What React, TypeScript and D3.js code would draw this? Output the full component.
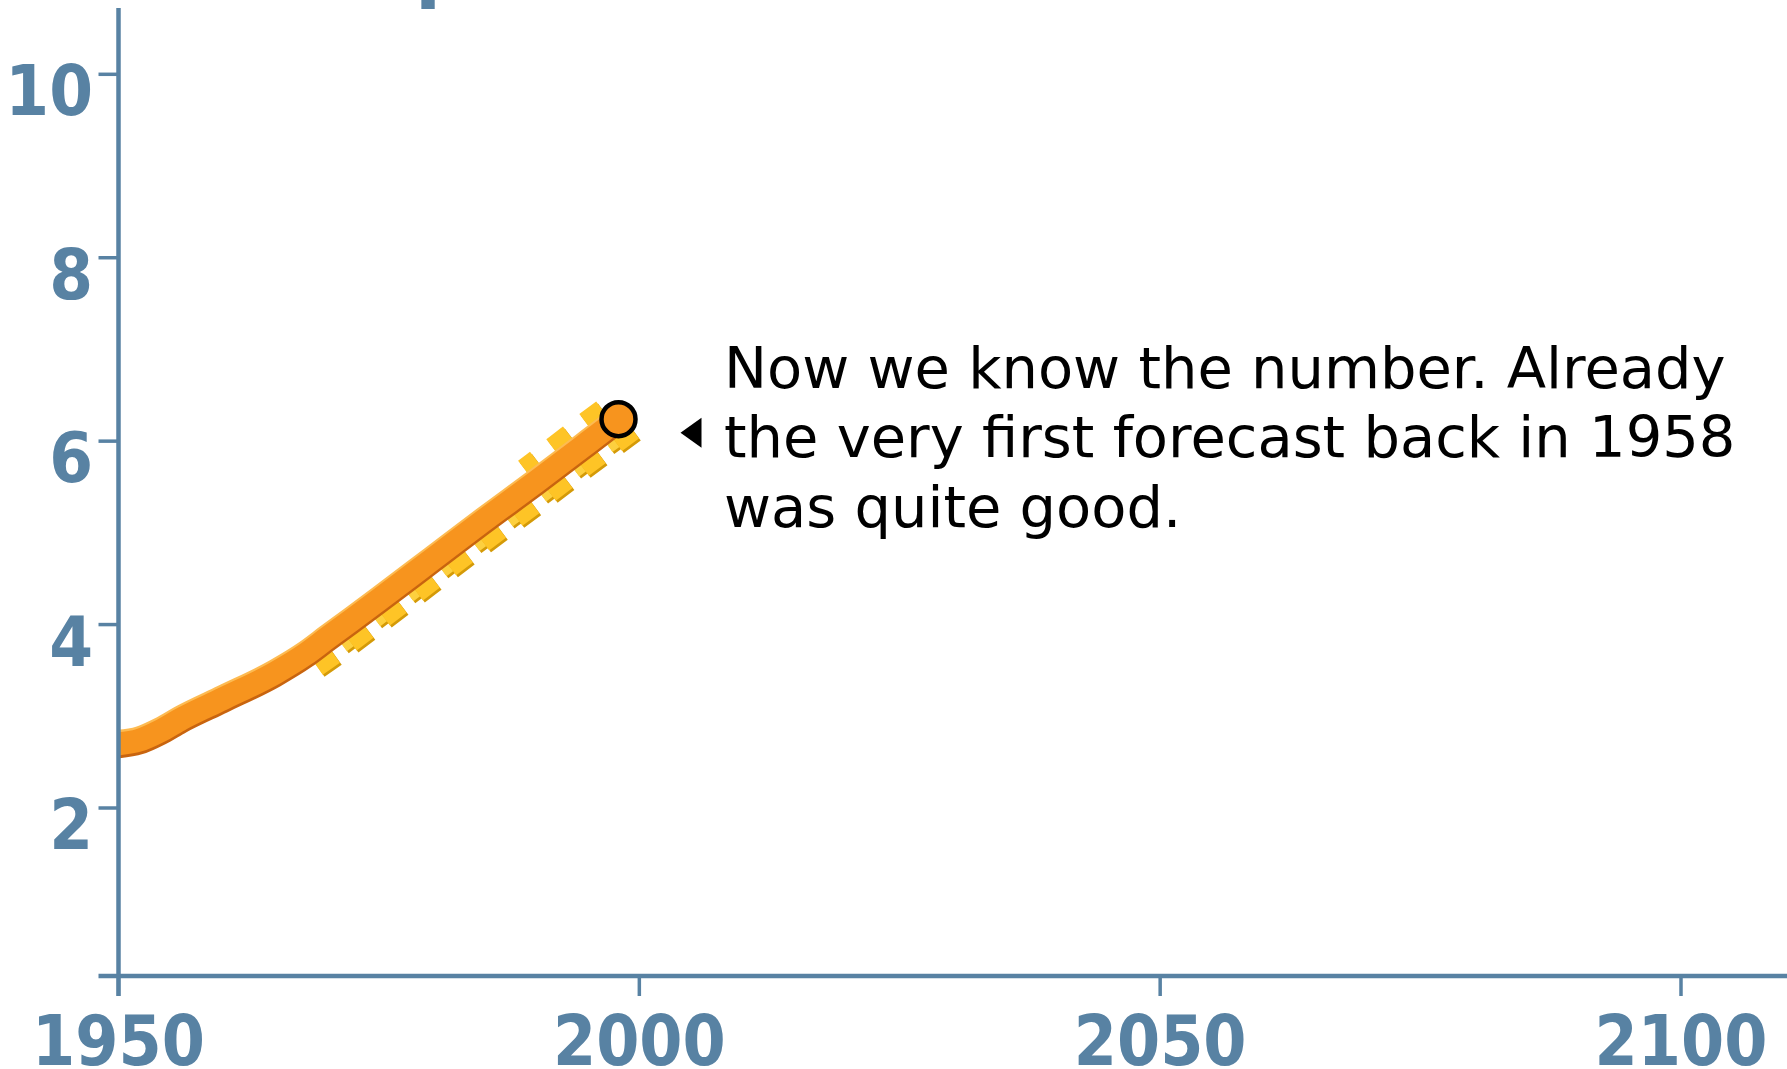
import React from "react";
import * as d3 from "d3";

// ---- data ----
const actualYears = [1950, 1952, 1954, 1956, 1960, 1965, 1968, 1970, 1975, 1980, 1985, 1990, 1995, 1998];
const actualValues = [2.70, 2.74, 2.84, 2.97, 3.19, 3.47, 3.68, 3.85, 4.27, 4.70, 5.13, 5.55, 5.98, 6.24];

const forecastAYears = [1969, 1970, 1975, 1980, 1985, 1990, 1995, 2000];
const forecastAValues = [3.55, 3.63, 4.05, 4.48, 4.91, 5.33, 5.76, 6.18];

const forecastBYears = [1969, 1970, 1975, 1980, 1985, 1990, 1995, 1999];
const forecastBValues = [3.62, 3.70, 4.12, 4.55, 4.98, 5.40, 5.83, 6.16];

const forecastCYears = [1989, 1992, 1995, 1997];
const forecastCValues = [5.69, 5.95, 6.21, 6.38];

const xTicks = [1950, 2000, 2050, 2100];
const yTicks = [2, 4, 6, 8, 10];

const noteLines = [
  "Now we know the number. Already",
  "the very first forecast back in 1958",
  "was quite good.",
];

// ---- layout ----
const W = 1787;
const H = 1069;
const AXIS_COLOR = "#5882a3";
const AXIS_Y = 976; // pixel row of the x axis
const AXIS_TOP = 8;

export default function App() {
  const x = d3.scaleLinear().domain([1950, 2100]).range([118.5, 1681]);
  const y = d3.scaleLinear().domain([2, 10]).range([808, 74.3]);

  const line = d3
    .line<[number, number]>()
    .x((d) => x(d[0]))
    .y((d) => y(d[1]))
    .curve(d3.curveMonotoneX);

  const zip = (a: number[], b: number[]) => a.map((v, i) => [v, b[i]] as [number, number]);
  const actualPath = line(zip(actualYears, actualValues)) || "";
  const fA = line(zip(forecastAYears, forecastAValues)) || "";
  const fB = line(zip(forecastBYears, forecastBValues)) || "";
  const fC = line(zip(forecastCYears, forecastCValues)) || "";

  const x0 = x(1950);
  const lastX = x(actualYears[actualYears.length - 1]);
  const lastY = y(actualValues[actualValues.length - 1]);

  const dash = "21 20.5";
  const yellowLine = (d: string, offset: number, light: boolean) => (
    <g>
      <path d={d} fill="none" stroke="#d49a08" strokeWidth={22} strokeDasharray={dash}
        strokeDashoffset={offset} transform="translate(1.8,2)" />
      <path d={d} fill="none" stroke={light ? "#fdd03f" : "#fec426"} strokeWidth={22}
        strokeDasharray={dash} strokeDashoffset={offset} />
    </g>
  );

  const fontTick = "'DejaVu Sans Condensed', 'DejaVu Sans', sans-serif";

  return (
    <svg width={W} height={H} viewBox={`0 0 ${W} ${H}`}
      style={{ position: "absolute", left: 0, top: 0, display: "block", background: "#fff" }}>
      {/* cut-off title */}
      <text x={416} y={-7} fontFamily="'DejaVu Sans', sans-serif" fontWeight="bold" fontSize={76}
        fill={AXIS_COLOR} textAnchor="end">World Po</text>
      <text x={415} y={-7} fontFamily="'DejaVu Sans', sans-serif" fontWeight="bold" fontSize={76}
        fill={AXIS_COLOR}>pulation</text>

      {/* forecasts (behind) */}
      {yellowLine(fB, 12, true)}
      {yellowLine(fA, 0, false)}
      {yellowLine(fC, 6, false)}

      {/* actual line with 3D effect */}
      <path d={actualPath} fill="none" stroke="#c8640f" strokeWidth={23} transform="translate(0,3)" />
      <path d={actualPath} fill="none" stroke="#fdbb52" strokeWidth={23} transform="translate(0,-2.5)" />
      <path d={actualPath} fill="none" stroke="#f7941e" strokeWidth={23} />

      <circle cx={lastX} cy={lastY} r={17} fill="#f7941e" stroke="#000" strokeWidth={4.5} />

      {/* pointer */}
      <path d={`M${lastX + 62},${lastY + 13.5} L${lastX + 83},${lastY - 1.5} L${lastX + 83},${lastY + 28.5} Z`} fill="#000" />
      <text fontFamily="'DejaVu Sans', sans-serif" fontSize={57.5} fill="#000">
        {noteLines.map((t, i) => (
          <tspan key={i} x={724} y={387.5 + i * 69.5}>{t}</tspan>
        ))}
      </text>

      {/* y axis */}
      <line x1={x0} x2={x0} y1={AXIS_TOP} y2={AXIS_Y + 20} stroke={AXIS_COLOR} strokeWidth={4.5} />
      {yTicks.map((t) => (
        <g key={t}>
          <line x1={x0 - 20} x2={x0} y1={y(t)} y2={y(t)} stroke={AXIS_COLOR} strokeWidth={3.5} />
          <text x={93} y={y(t) + 41} textAnchor="end" fontFamily={fontTick} fontWeight="bold"
            fontSize={70} fill={AXIS_COLOR}>{t}</text>
        </g>
      ))}

      {/* x axis */}
      <line x1={x0 - 20} x2={W} y1={AXIS_Y} y2={AXIS_Y} stroke={AXIS_COLOR} strokeWidth={4.5} />
      {xTicks.map((t) => (
        <g key={t}>
          <line x1={x(t)} x2={x(t)} y1={AXIS_Y} y2={AXIS_Y + 20} stroke={AXIS_COLOR} strokeWidth={3.5} />
          <text x={x(t)} y={1065} textAnchor="middle" fontFamily={fontTick} fontWeight="bold"
            fontSize={69} fill={AXIS_COLOR}>{t}</text>
        </g>
      ))}
    </svg>
  );
}
